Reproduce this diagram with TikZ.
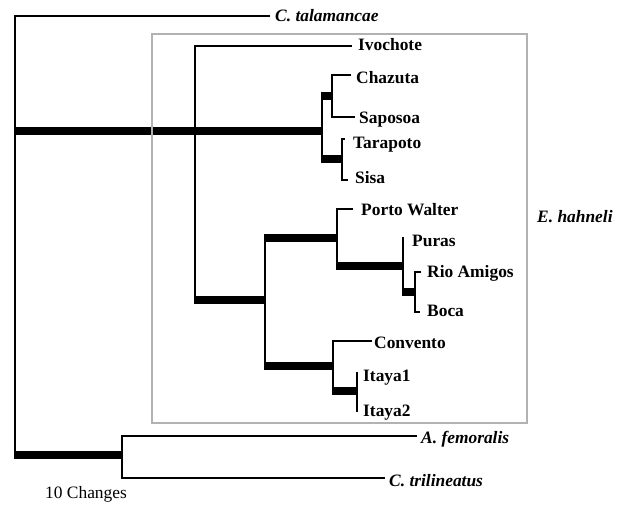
\documentclass[tikz,border=0pt]{standalone}
\usepackage{fontspec}
\setmainfont{Liberation Serif}
\begin{document}
\begin{tikzpicture}[x=1pt,y=-1pt,
  thinbr/.style={line width=2.8pt, line join=miter, line cap=butt},
  thkbr/.style={line width=8pt, line cap=butt, shorten <=-1.4pt},
  lab/.style={font=\fontsize{17.4}{20}\selectfont\bfseries, anchor=base west, inner sep=0pt},
  sp/.style={font=\fontsize{17.4}{20}\selectfont\bfseries\itshape, anchor=base west, inner sep=0pt},
  plain/.style={font=\fontsize{17.4}{20}\selectfont, anchor=base west, inner sep=0pt},
  boxline/.style={draw=black!30, line width=1.6pt}]
\useasboundingbox (0,0) rectangle (626,506);
% tips
\coordinate (talam) at (270,16);
\coordinate (ivo) at (352,46);
\coordinate (chaz) at (351,75);
\coordinate (sapo) at (355,117);
\coordinate (tara) at (345,139);
\coordinate (sisa) at (348,180);
\coordinate (porto) at (353,209);
\coordinate (puras) at (403,237);
\coordinate (rio) at (421,272);
\coordinate (boca) at (420,312);
\coordinate (conv) at (372,341);
\coordinate (it1) at (357,372);
\coordinate (it2) at (357,412);
\coordinate (afem) at (417,436);
\coordinate (ctri) at (385,478);
% internal nodes
\coordinate (Rt) at (15,16);
\coordinate (Rb) at (15,455);
\coordinate (N1) at (322,131);
\coordinate (N1a) at (332,96);
\coordinate (N1b) at (342,159);
\coordinate (N2) at (195,46);
\coordinate (N3) at (265,300);
\coordinate (N4) at (337,238);
\coordinate (N5) at (403,266);
\coordinate (N5b) at (415,292);
\coordinate (N6) at (333,366);
\coordinate (N7) at (357,391);
\coordinate (Nout) at (122,455);
% root
\draw[thinbr] (talam) -- (Rt) -- (Rb);
\draw[thkbr] (Rt |- N1) -- (N1);
\draw[thkbr] (Rt |- Nout) -- (Nout);
% northern clade
\draw[thinbr] (N1 |- N1a) -- (N1 |- N1b);
\draw[thkbr] (N1 |- N1a) -- (N1a);
\draw[thkbr] (N1 |- N1b) -- (N1b);
\draw[thinbr] (chaz) -- (N1a |- chaz) -- (N1a |- sapo) -- (sapo);
\draw[thinbr] (tara) -- (N1b |- tara) -- (N1b |- sisa) -- (sisa);
% Ivochote and southern clade
\draw[thinbr] (ivo) -- (N2) -- (N2 |- N3);
\draw[thkbr] (N2 |- N3) -- (N3);
\draw[thinbr] (N3 |- N4) -- (N3 |- N6);
\draw[thkbr] (N3 |- N4) -- (N4);
\draw[thkbr] (N3 |- N6) -- (N6);
\draw[thinbr] (porto) -- (N4 |- porto) -- (N4 |- N5);
\draw[thkbr] (N4 |- N5) -- (N5);
\draw[thinbr] (puras) -- (N5 |- N5b);
\draw[thkbr] (N5 |- N5b) -- (N5b);
\draw[thinbr] (rio) -- (N5b |- rio) -- (N5b |- boca) -- (boca);
\draw[thinbr] (conv) -- (N6 |- conv) -- (N6 |- N7);
\draw[thkbr] (N6 |- N7) -- (N7);
\draw[thinbr] (it1) -- (it2);
% outgroups
\draw[thinbr] (afem) -- (Nout |- afem) -- (Nout |- ctri) -- (ctri);
% box
\draw[boxline] (152,34) rectangle (527,423);
% labels
\node[sp] (Ltal) at (275,21) {C. talamancae};
\node[lab] (Livo) at (358,50) {Ivochote};
\node[lab] (Lchaz) at (356,83) {Chazuta};
\node[lab] (Lsapo) at (359,123) {Saposoa};
\node[lab] (Ltara) at (353,148) {Tarapoto};
\node[lab] (Lsisa) at (355,183) {Sisa};
\node[lab] (Lporto) at (361,215) {Porto Walter};
\node[lab] (Lpuras) at (412,246) {Puras};
\node[lab] (Lrio) at (427,277) {Rio Amigos};
\node[lab] (Lboca) at (427,316) {Boca};
\node[lab] (Lconv) at (374,348) {Convento};
\node[lab] (Lit1) at (363,381) {Itaya1};
\node[lab] (Lit2) at (363,416) {Itaya2};
\node[sp] (Lhah) at (537,222) {E. hahneli};
\node[sp] (Lafem) at (421,443) {A. femoralis};
\node[sp] (Lctri) at (389,486) {C. trilineatus};
\node[plain] (Lscale) at (45,498) {10 Changes};
\end{tikzpicture}
\end{document}
